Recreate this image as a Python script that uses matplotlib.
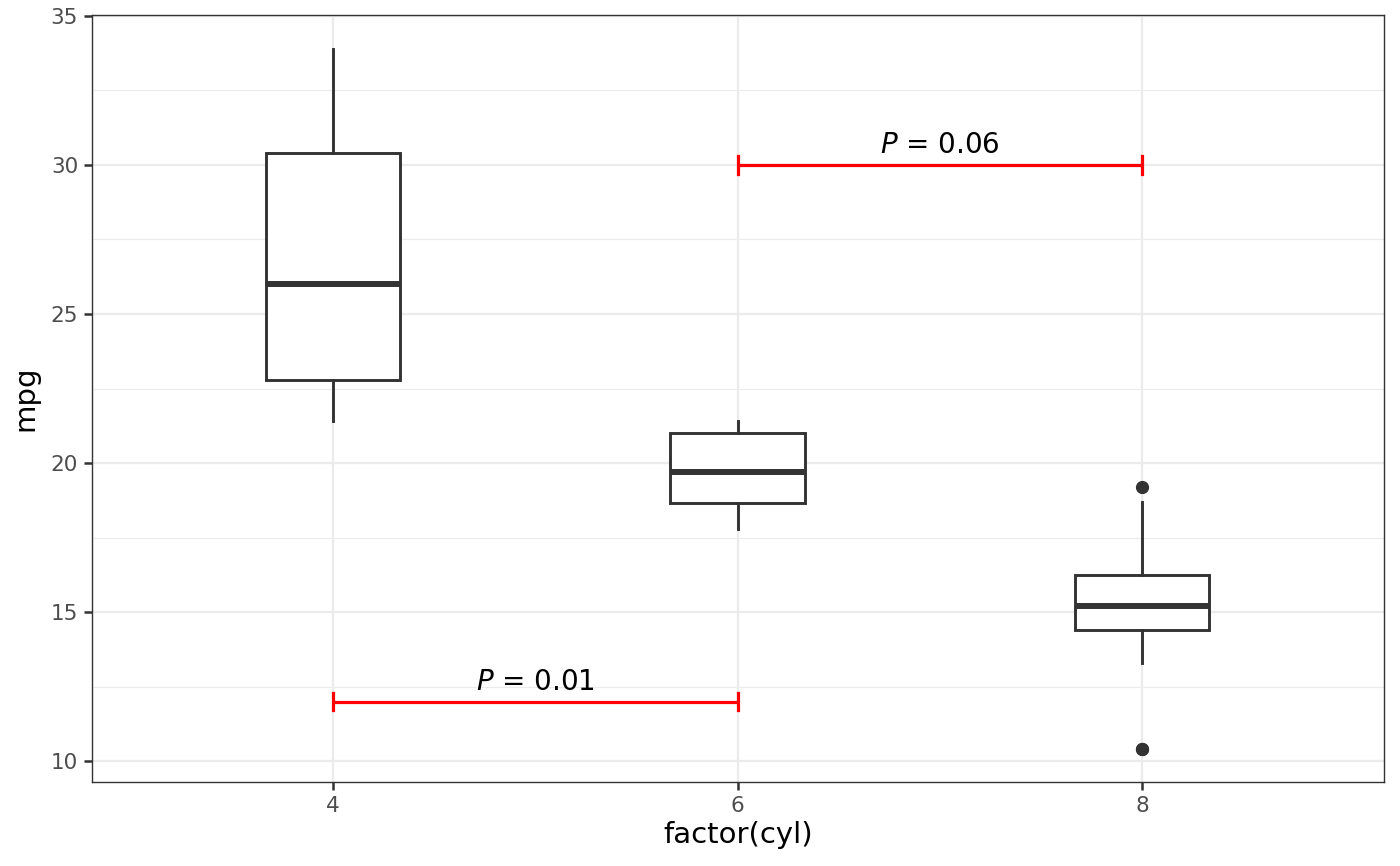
import matplotlib
matplotlib.use("Agg")
import matplotlib.pyplot as plt
from matplotlib.ticker import MultipleLocator

cyl_levels = [4, 6, 8]
mpg_cyl4 = [22.8, 24.4, 22.8, 32.4, 30.4, 33.9, 21.5, 27.3, 26.0, 30.4, 21.4]
mpg_cyl6 = [21.0, 21.0, 21.4, 18.1, 19.2, 17.8, 19.7]
mpg_cyl8 = [18.7, 14.3, 16.4, 17.3, 15.2, 10.4, 10.4, 14.7, 15.5, 15.2, 13.3, 19.2, 15.8, 15.0]

comparisons = [(4, 6), (6, 8)]
comparison_y = [12, 30]
comparison_labels = [r"$P$ = 0.01", r"$P$ = 0.06"]

dark = "#333333"
fig = plt.figure(figsize=(14, 8.66), dpi=100)
ax = fig.add_axes([0.0657, 0.097, 0.9229, 0.8857])

ax.set_xlim(2.808, 9.197)
ax.set_ylim(9.3, 35.03)

ax.yaxis.set_major_locator(MultipleLocator(5))
ax.yaxis.set_minor_locator(MultipleLocator(2.5))
ax.set_xticks(cyl_levels)
ax.set_xticklabels([str(c) for c in cyl_levels])

ax.grid(True, which="major", color="#EBEBEB", linewidth=1.6, zorder=0)
ax.grid(True, which="minor", axis="y", color="#EBEBEB", linewidth=0.8, zorder=0)
ax.set_axisbelow(True)

ax.boxplot([mpg_cyl4, mpg_cyl6, mpg_cyl8], positions=cyl_levels, widths=0.667,
           whis=1.5, patch_artist=True, manage_ticks=False,
           boxprops=dict(facecolor="white", edgecolor=dark, linewidth=2.1),
           medianprops=dict(color=dark, linewidth=4.3, solid_capstyle="butt"),
           whiskerprops=dict(color=dark, linewidth=2.1),
           capprops=dict(linewidth=0),
           flierprops=dict(marker="o", markerfacecolor=dark, markeredgecolor=dark, markersize=8.5),
           zorder=3)

for (a, b), yv, lab in zip(comparisons, comparison_y, comparison_labels):
    ax.plot([a, b], [yv, yv], color="red", linewidth=2.3, zorder=4, solid_capstyle="butt")
    ax.plot([a, a], [yv - 0.3, yv + 0.3], color="red", linewidth=2.3, zorder=4)
    ax.plot([b, b], [yv - 0.3, yv + 0.3], color="red", linewidth=2.3, zorder=4)
    ax.text((a + b) / 2, yv + 0.2, lab, ha="center", va="bottom", fontsize=20, color="black", zorder=5)

for sp in ax.spines.values():
    sp.set_color(dark)
    sp.set_linewidth(1.0)

ax.tick_params(axis="both", which="major", length=6, width=1.8, color=dark,
               labelcolor="#4D4D4D", labelsize=15.5, pad=4)
ax.tick_params(axis="both", which="minor", length=0)

ax.set_xlabel("factor(cyl)", fontsize=21, color="black", labelpad=4)
ax.set_ylabel("mpg", fontsize=21, color="black", labelpad=8)

fig.savefig("out.png", dpi=100)
